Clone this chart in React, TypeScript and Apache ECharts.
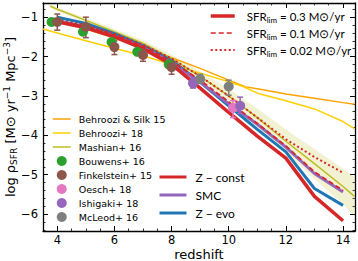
import React, { useEffect, useRef } from 'react';
import * as echarts from 'echarts';

// ---- model curves (redshift grid) ----
const modelZ = [4, 5, 6, 7, 8, 9, 10, 11, 12, 13, 14];
const zConst = [-1.12, -1.27, -1.5, -1.8, -2.2, -2.8, -3.42, -4.02, -4.58, -5.55, -6.17];
const zEvo = [-1.0, -1.16, -1.42, -1.72, -2.1, -2.65, -3.25, -3.85, -4.42, -5.35, -5.78];
const smc = [-1.1, -1.24, -1.48, -1.76, -2.15, -2.65, -3.2, -3.72, -4.3, -4.97, -5.44];
const lim01 = [-1.1, -1.23, -1.46, -1.74, -2.12, -2.6, -3.15, -3.7, -4.27, -4.93, -5.4];
const lim002 = [-1.08, -1.2, -1.42, -1.7, -2.05, -2.5, -3.0, -3.55, -4.1, -4.55, -4.95];

// ---- literature curves ----
const bsZ = [4, 5, 6, 7, 8, 9, 10, 10.6, 11, 12, 13, 14, 14.4];
const bsVal = [-1.05, -1.3, -1.53, -1.76, -2.03, -2.3, -2.6, -2.77, -2.82, -2.95, -3.06, -3.17, -3.21];

const b18Z = [3.5, 4, 5, 6, 7, 8, 9, 10, 10.5, 11, 12, 13, 14, 14.4];
const b18Val = [-1.3, -1.4, -1.6, -1.79, -1.98, -2.2, -2.42, -2.64, -2.76, -2.93, -3.12, -3.33, -3.65, -3.83];

const mashZ = [3.75, 4, 5, 6, 7, 8, 9, 10, 11, 12, 13, 14, 14.4];
const mashVal = [-0.72, -0.8, -1.08, -1.37, -1.66, -2.05, -2.5, -3.0, -3.55, -4.15, -4.72, -5.3, -5.55];
const mashHi = [-0.67, -0.75, -1.02, -1.3, -1.58, -1.95, -2.38, -2.82, -3.32, -3.85, -4.35, -4.85, -5.05];
const mashLo = [-0.77, -0.85, -1.14, -1.44, -1.74, -2.15, -2.62, -3.18, -3.78, -4.45, -5.1, -5.75, -6.05];

// ---- observations ----
const bouwensZ = [3.8, 4.9, 5.9, 6.8, 7.9];
const bouwensVal = [-1.12, -1.37, -1.63, -1.88, -2.2];

const finkZ = [4, 5, 6, 7, 8];
const finkVal = [-1.12, -1.25, -1.76, -1.96, -2.27];
const finkLo = [-1.33, -1.52, -1.95, -2.12, -2.45];
const finkHi = [-0.92, -1.0, -1.6, -1.82, -2.12];

const oeschZ = [10.15];
const oeschVal = [-3.3];
const oeschLo = [-3.55];
const oeschHi = [-3.12];

const ishiZ = [8.75, 10.4];
const ishiVal = [-2.68, -3.25];
const ishiLo = [-2.8, -3.45];
const ishiHi = [-2.55, -3.03];

const mcleodZ = [9.0, 10.0];
const mcleodVal = [-2.57, -2.76];
const mcleodLo = [-2.68, -2.98];
const mcleodHi = [-2.45, -2.6];

// ---- ticks ----
const xMajor = [4, 6, 8, 10, 12, 14];
const xMinor = [3.5, 4.5, 5, 5.5, 6.5, 7, 7.5, 8.5, 9, 9.5, 10.5, 11, 11.5, 12.5, 13, 13.5, 14];
const yMajor = [-6, -5, -4, -3, -2, -1];
const yMinor = [-6.4, -6.2, -5.8, -5.6, -5.4, -5.2, -4.8, -4.6, -4.4, -4.2, -3.8, -3.6, -3.4, -3.2,
  -2.8, -2.6, -2.4, -2.2, -1.8, -1.6, -1.4, -1.2, -0.8];

const X_MIN = 3.5, X_MAX = 14.42, Y_MIN = -6.43, Y_MAX = -0.64;

const C = {
  red: '#d62728', blue: '#1f77b4', purple: '#9467bd', green: '#2ca02c', brown: '#8c564b',
  pink: '#e377c2', gray: '#7f7f7f', orange: '#ffa200', gold: '#ffd000', olive: '#bcbd22',
};

const pairs = (xs: number[], ys: number[]) => xs.map((x, i) => [x, ys[i]]);
const quads = (xs: number[], ys: number[], lo: number[], hi: number[]) => xs.map((x, i) => [x, ys[i], lo[i], hi[i]]);

const minus = (v: number) => (v < 0 ? '\u2212' + Math.abs(v) : String(v));

function errSeries(name: string, xs: number[], ys: number[], lo: number[], hi: number[], color: string) {
  return {
    type: 'custom', name, z: 4,
    data: quads(xs, ys, lo, hi),
    encode: { x: 0, y: [1, 2, 3] },
    renderItem: (params: any, api: any) => {
      const x = api.value(0);
      const a = api.coord([x, api.value(2)]);
      const b = api.coord([x, api.value(3)]);
      const c = 3;
      const st = { stroke: color, lineWidth: 1.5 };
      return {
        type: 'group', children: [
          { type: 'line', shape: { x1: a[0], y1: a[1], x2: b[0], y2: b[1] }, style: st },
          { type: 'line', shape: { x1: a[0] - c, y1: a[1], x2: a[0] + c, y2: a[1] }, style: st },
          { type: 'line', shape: { x1: b[0] - c, y1: b[1], x2: b[0] + c, y2: b[1] }, style: st },
        ],
      };
    },
  };
}

function lineSeries(name: string, xs: number[], ys: number[], color: string, width: number, type: any = 'solid', z = 3) {
  return {
    type: 'line', name, data: pairs(xs, ys), showSymbol: false, symbol: 'none', z,
    lineStyle: { color, width, type, cap: 'butt' }, itemStyle: { color },
  };
}

function scatterSeries(name: string, xs: number[], ys: number[], color: string) {
  return { type: 'scatter', name, data: pairs(xs, ys), symbol: 'circle', symbolSize: 10, z: 5, itemStyle: { color, opacity: 1 } };
}

const SFR03 = 'SFR_lim = 0.3', SFR01 = 'SFR_lim = 0.1', SFR002 = 'SFR_lim = 0.02';
const sfrText: Record<string, string> = {
  [SFR03]: '{a|SFR}{s|lim}{a| = 0.3 M\u2299/yr}',
  [SFR01]: '{a|SFR}{s|lim}{a| = 0.1 M\u2299/yr}',
  [SFR002]: '{a|SFR}{s|lim}{a| = 0.02 M\u2299/yr}',
};

const hideDot = { opacity: 0 };

export default function App() {
  const ref = useRef<HTMLDivElement>(null);
  useEffect(() => {
    if (!ref.current) return;
    const chart = echarts.init(ref.current, undefined, { renderer: 'svg' });
    const axLine = { show: true, lineStyle: { color: '#000', width: 1.3 } };
    const tickMaj = (vals: number[]) => ({ show: true, inside: true, length: 5, customValues: vals, lineStyle: { color: '#000', width: 1 } });
    const tickMin = (vals: number[]) => ({ show: true, inside: true, length: 2.5, customValues: vals, lineStyle: { color: '#000', width: 0.8 } });
    const common = { type: 'value', min: X_MIN, max: X_MAX, splitLine: { show: false } };
    const commonY = { type: 'value', min: Y_MIN, max: Y_MAX, splitLine: { show: false } };
    const option: any = {
      animation: false,
      grid: { left: 43, right: 3, top: 3, bottom: 30, containLabel: false, outerBoundsMode: 'none' },
      xAxis: [
        {
          ...common, position: 'bottom', axisLine: axLine, axisTick: tickMaj(xMajor),
          axisLabel: { customValues: xMajor, fontSize: 11.5, color: '#000', margin: 3, fontFamily: 'DejaVu Sans' },
          name: 'redshift', nameLocation: 'middle', nameGap: 17, nameMoveOverlap: false,
          nameTextStyle: { fontSize: 13, color: '#000', fontFamily: 'DejaVu Sans' },
        },
        { ...common, position: 'bottom', axisLine: { show: false }, axisTick: tickMin(xMinor), axisLabel: { show: false } },
        { ...common, position: 'top', axisLine: axLine, axisTick: tickMaj(xMajor), axisLabel: { show: false } },
        { ...common, position: 'top', axisLine: { show: false }, axisTick: tickMin(xMinor), axisLabel: { show: false } },
      ],
      yAxis: [
        {
          ...commonY, position: 'left', axisLine: axLine, axisTick: tickMaj(yMajor),
          axisLabel: { customValues: yMajor, fontSize: 11.5, color: '#000', margin: 5, fontFamily: 'DejaVu Sans', formatter: minus },
          name: '{n|log \u03c1}{sub|SFR}{n| [M\u2299 yr}{sup|\u22121}{n| Mpc}{sup|\u22123}{n|]}',
          nameLocation: 'middle', nameGap: 25, nameMoveOverlap: false,
          nameTextStyle: {
            color: '#000', fontFamily: 'DejaVu Sans', fontSize: 13,
            rich: {
              n: { fontSize: 13, lineHeight: 16, fontFamily: 'DejaVu Sans', color: '#000', verticalAlign: 'middle' },
              sub: { fontSize: 9, lineHeight: 8, fontFamily: 'DejaVu Sans', color: '#000', verticalAlign: 'bottom' },
              sup: { fontSize: 9, lineHeight: 8, fontFamily: 'DejaVu Sans', color: '#000', verticalAlign: 'top' },
            },
          },
        },
        { ...commonY, position: 'left', axisLine: { show: false }, axisTick: tickMin(yMinor), axisLabel: { show: false } },
        { ...commonY, position: 'right', axisLine: axLine, axisTick: tickMaj(yMajor), axisLabel: { show: false } },
        { ...commonY, position: 'right', axisLine: { show: false }, axisTick: tickMin(yMinor), axisLabel: { show: false } },
      ],
      legend: [
        {
          orient: 'vertical', left: 52, top: 114, padding: 0, itemWidth: 18, itemHeight: 10, itemGap: 4,
          textStyle: { fontSize: 9.5, fontFamily: 'DejaVu Sans', color: '#000', padding: [0, 0, 0, 3] },
          data: [
            { name: 'Behroozi & Silk 15', lineStyle: { width: 1.5 }, itemStyle: hideDot },
            { name: 'Behroozi+ 18', lineStyle: { width: 1.5 }, itemStyle: hideDot },
            { name: 'Mashian+ 16', lineStyle: { width: 1.5 }, itemStyle: hideDot },
            { name: 'Bouwens+ 16', icon: 'circle' },
            { name: 'Finkelstein+ 15', icon: 'circle' },
            { name: 'Oesch+ 18', icon: 'circle' },
            { name: 'Ishigaki+ 18', icon: 'circle' },
            { name: 'McLeod+ 16', icon: 'circle' },
          ],
        },
        {
          orient: 'vertical', left: 209, top: 10, padding: 0, itemWidth: 24, itemHeight: 14, itemGap: 3.5,
          formatter: (n: string) => sfrText[n] || n,
          textStyle: {
            color: '#000', padding: [0, 0, 0, 7],
            rich: {
              a: { fontSize: 11.5, fontFamily: 'Lato', color: '#000', lineHeight: 15, verticalAlign: 'middle' },
              s: { fontSize: 8, fontFamily: 'Lato', color: '#000', lineHeight: 8, verticalAlign: 'bottom' },
            },
          },
          data: [
            { name: SFR03, lineStyle: { width: 3.5, type: 'solid' }, itemStyle: hideDot },
            { name: SFR01, lineStyle: { width: 1.5, type: [5, 3] }, itemStyle: hideDot },
            { name: SFR002, lineStyle: { width: 2, type: [2, 2.5] }, itemStyle: hideDot },
          ],
        },
        {
          orient: 'vertical', left: 158, top: 171, padding: 0, itemWidth: 27, itemHeight: 12, itemGap: 6,
          textStyle: { fontSize: 12, fontFamily: 'Lato', color: '#000', padding: [0, 0, 0, 4] },
          data: [
            { name: 'Z \u2212 const', lineStyle: { width: 3 }, itemStyle: hideDot },
            { name: 'SMC', lineStyle: { width: 3 }, itemStyle: hideDot },
            { name: 'Z \u2212 evo', lineStyle: { width: 3 }, itemStyle: hideDot },
          ],
        },
      ],
      series: [
        {
          type: 'custom', name: 'Mashian band', z: 1, silent: true,
          data: quads(mashZ, mashVal, mashLo, mashHi),
          encode: { x: 0, y: [1, 2, 3] },
          renderItem: (params: any, api: any) => {
            if (params.dataIndex !== 0) return { type: 'group', children: [] };
            const pts: number[][] = [];
            for (let i = 0; i < mashZ.length; i++) pts.push(api.coord([mashZ[i], mashHi[i]]));
            for (let i = mashZ.length - 1; i >= 0; i--) pts.push(api.coord([mashZ[i], mashLo[i]]));
            return { type: 'polygon', shape: { points: pts }, style: { fill: 'rgba(188,189,34,0.2)', stroke: 'none' } };
          },
        },
        lineSeries('Behroozi & Silk 15', bsZ, bsVal, C.orange, 1.5, 'solid', 2),
        lineSeries('Behroozi+ 18', b18Z, b18Val, C.gold, 1.5, 'solid', 2),
        lineSeries('Mashian+ 16', mashZ, mashVal, C.olive, 1.5, 'solid', 2),
        lineSeries('Z \u2212 evo', modelZ, zEvo, C.blue, 3),
        lineSeries('SMC', modelZ, smc, C.purple, 3),
        lineSeries('Z \u2212 const', modelZ, zConst, C.red, 3.5),
        lineSeries(SFR01, modelZ, lim01, C.red, 1.8, [5, 3]),
        lineSeries(SFR002, modelZ, lim002, C.red, 2, [2, 2.5]),
        { type: 'line', name: SFR03, data: [], showSymbol: false, symbol: 'none', lineStyle: { color: C.red, width: 3.5 }, itemStyle: { color: C.red } },
        errSeries('Finkelstein err', finkZ, finkVal, finkLo, finkHi, C.brown),
        errSeries('Oesch err', oeschZ, oeschVal, oeschLo, oeschHi, C.pink),
        errSeries('Ishigaki err', ishiZ, ishiVal, ishiLo, ishiHi, C.purple),
        errSeries('McLeod err', mcleodZ, mcleodVal, mcleodLo, mcleodHi, C.gray),
        scatterSeries('Bouwens+ 16', bouwensZ, bouwensVal, C.green),
        scatterSeries('Finkelstein+ 15', finkZ, finkVal, C.brown),
        scatterSeries('Oesch+ 18', oeschZ, oeschVal, C.pink),
        scatterSeries('Ishigaki+ 18', ishiZ, ishiVal, C.purple),
        scatterSeries('McLeod+ 16', mcleodZ, mcleodVal, C.gray),
      ],
    };
    chart.setOption(option);
    return () => chart.dispose();
  }, []);
  return <div ref={ref} style={{ position: 'fixed', left: 0, top: 0, width: 358, height: 261, background: '#fff' }} />;
}
